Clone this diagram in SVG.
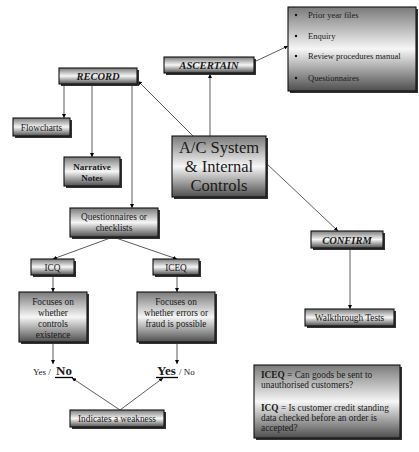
<svg xmlns="http://www.w3.org/2000/svg" width="419" height="452" viewBox="0 0 419 452" font-family="'Liberation Serif', 'Times New Roman', serif">
<defs>
<linearGradient id="g" x1="0" y1="0" x2="0" y2="1">
<stop offset="0" stop-color="#7a7a7a"/>
<stop offset="0.5" stop-color="#f6f6f6"/>
<stop offset="1" stop-color="#4e4e4e"/>
</linearGradient>
<marker id="ah" viewBox="0 0 6 6" refX="6" refY="3" markerWidth="4" markerHeight="4" orient="auto" markerUnits="userSpaceOnUse">
<path d="M0,0 L6,3 L0,6 Z" fill="#000"/>
</marker>
</defs>
<style>
.box{fill:url(#g);stroke:#111;stroke-width:1.1}
.sh{fill:#333}
text{font-family:'Liberation Serif','Times New Roman',serif;fill:#1a1a1a}
.c{text-anchor:middle}
.bi{font-weight:bold;font-style:italic}
.b{font-weight:bold}
.s{font-size:9.3px}
.ln{stroke:#333;stroke-width:0.8;fill:none;marker-end:url(#ah)}
</style>
<rect width="419" height="452" fill="#fff"/>

<g id="connectors">
<line class="ln" x1="193" y1="136" x2="138" y2="81"/>
<line class="ln" x1="210" y1="136" x2="210" y2="74"/>
<line class="ln" x1="254" y1="62" x2="288" y2="46"/>
<line class="ln" x1="266" y1="163" x2="338" y2="231"/>
<line class="ln" x1="350" y1="248" x2="350" y2="309"/>
<line class="ln" x1="64" y1="84" x2="64" y2="118"/>
<line class="ln" x1="92" y1="84" x2="92" y2="157"/>
<line class="ln" x1="132" y1="84" x2="132" y2="208"/>
<line class="ln" x1="113" y1="237" x2="53" y2="259"/>
<line class="ln" x1="113" y1="237" x2="177" y2="259"/>
<line class="ln" x1="53" y1="275" x2="53" y2="292"/>
<line class="ln" x1="177" y1="275" x2="177" y2="292"/>
<line class="ln" x1="53" y1="342" x2="53" y2="364"/>
<line class="ln" x1="177" y1="342" x2="177" y2="364"/>
<line class="ln" x1="120" y1="410" x2="72" y2="378"/>
<line class="ln" x1="120" y1="410" x2="163" y2="378"/>
</g>

<g id="record">
<rect class="sh" x="61" y="70" width="78" height="16"/>
<rect class="box" x="59" y="68" width="78" height="16"/>
<text class="c bi" x="98" y="80" font-size="10.5">RECORD</text>
</g>

<g id="ascertain">
<rect class="sh" x="166" y="59" width="90" height="16"/>
<rect class="box" x="164" y="57" width="90" height="16"/>
<text class="c bi" x="209" y="69" font-size="10.7">ASCERTAIN</text>
</g>

<g id="methods">
<rect class="sh" x="290" y="9" width="128" height="84"/>
<rect class="box" x="288" y="7" width="128" height="84"/>
<g font-size="8.5">
<circle cx="296" cy="15" r="1.2" fill="#111"/><text x="308" y="18">Prior year files</text>
<circle cx="296" cy="36" r="1.2" fill="#111"/><text x="308" y="39">Enquiry</text>
<circle cx="296" cy="56" r="1.2" fill="#111"/><text x="308" y="59">Review procedures manual</text>
<circle cx="296" cy="78" r="1.2" fill="#111"/><text x="308" y="81">Questionnaires</text>
</g>
</g>

<g id="acsystem">
<rect class="sh" x="174" y="138" width="94" height="61"/>
<rect class="box" x="172" y="136" width="94" height="61"/>
<text class="c" x="219" y="153" font-size="16.5">A/C System</text>
<text class="c" x="219" y="172" font-size="16.5">&amp; Internal</text>
<text class="c" x="219" y="191" font-size="16.5">Controls</text>
</g>

<g id="flowcharts">
<rect class="sh" x="15" y="120" width="57" height="18"/>
<rect class="box" x="13" y="118" width="57" height="18"/>
<text class="c s" x="41.5" y="130.5">Flowcharts</text>
</g>

<g id="narrative">
<rect class="sh" x="66" y="159" width="56" height="29"/>
<rect class="box" x="64" y="157" width="56" height="29"/>
<text class="c b" x="92" y="170" font-size="9">Narrative</text>
<text class="c b" x="92" y="181" font-size="9">Notes</text>
</g>

<g id="questionnaires">
<rect class="sh" x="72" y="210" width="88" height="29"/>
<rect class="box" x="70" y="208" width="88" height="29"/>
<text class="c s" x="114" y="220">Questionnaires or</text>
<text class="c s" x="114" y="231">checklists</text>
</g>

<g id="icq">
<rect class="sh" x="33" y="261" width="43" height="16"/>
<rect class="box" x="31" y="259" width="43" height="16"/>
<text class="c s" x="52.5" y="270.5">ICQ</text>
</g>

<g id="iceq">
<rect class="sh" x="155" y="261" width="46" height="16"/>
<rect class="box" x="153" y="259" width="46" height="16"/>
<text class="c s" x="176" y="270.5">ICEQ</text>
</g>

<g id="focus-left">
<rect class="sh" x="21" y="294" width="68" height="50"/>
<rect class="box" x="19" y="292" width="68" height="50"/>
<text class="c s" x="53" y="304.5">Focuses on</text>
<text class="c s" x="53" y="315.5">whether</text>
<text class="c s" x="53" y="326.5">controls</text>
<text class="c s" x="53" y="337.5">existence</text>
</g>

<g id="focus-right">
<rect class="sh" x="139" y="294" width="78" height="50"/>
<rect class="box" x="137" y="292" width="78" height="50"/>
<text class="c s" x="176" y="304.5">Focuses on</text>
<text class="c s" x="176" y="315.5">whether errors or</text>
<text class="c s" x="176" y="326.5">fraud is possible</text>
</g>

<g id="yesno-left">
<text x="33" y="375" font-size="9">Yes /</text>
<text x="56" y="375" font-size="13" class="b">No</text>
<line x1="55" y1="377.5" x2="73" y2="377.5" stroke="#000" stroke-width="1.3"/>
</g>

<g id="yesno-right">
<text x="157" y="375" font-size="13" class="b">Yes</text>
<line x1="156" y1="377.5" x2="178" y2="377.5" stroke="#000" stroke-width="1.3"/>
<text x="179" y="375" font-size="9">/ No</text>
</g>

<g id="weakness">
<rect class="sh" x="72" y="412" width="94" height="17"/>
<rect class="box" x="70" y="410" width="94" height="17"/>
<text class="c s" x="117" y="422">Indicates a weakness</text>
</g>

<g id="confirm">
<rect class="sh" x="313" y="233" width="72" height="17"/>
<rect class="box" x="311" y="231" width="72" height="17"/>
<text class="c bi" x="347" y="243.5" font-size="10.5">CONFIRM</text>
</g>

<g id="walkthrough">
<rect class="sh" x="307" y="311" width="89" height="17"/>
<rect class="box" x="305" y="309" width="89" height="17"/>
<text class="c s" x="349.5" y="321">Walkthrough Tests</text>
</g>

<g id="note">
<rect class="sh" x="256" y="367" width="146" height="73"/>
<rect class="box" x="254" y="365" width="146" height="73"/>
<text class="s" x="261" y="378"><tspan class="b">ICEQ</tspan> = Can goods be sent to</text>
<text class="s" x="261" y="388">unauthorised customers?</text>
<text class="s" x="261" y="411"><tspan class="b">ICQ</tspan> = Is customer credit standing</text>
<text class="s" x="261" y="421">data checked before an order is</text>
<text class="s" x="261" y="431">accepted?</text>
</g>
</svg>
